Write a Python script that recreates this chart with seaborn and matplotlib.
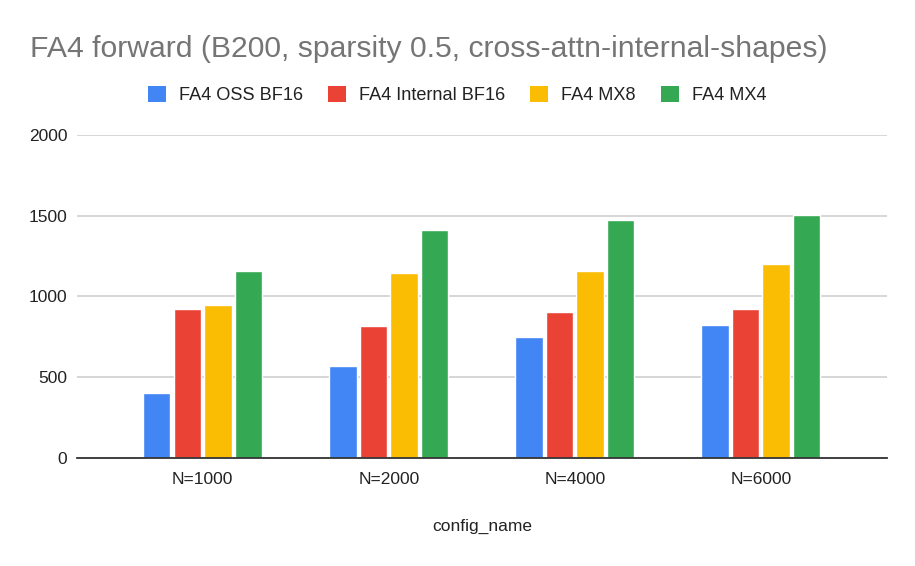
import pandas as pd
import matplotlib.pyplot as plt
import seaborn as sns
from matplotlib.patches import Patch

# Veriler
configs = ['N=1000', 'N=2000', 'N=4000', 'N=6000']
series = ['FA4 OSS BF16', 'FA4 Internal BF16', 'FA4 MX8', 'FA4 MX4']
oss_bf16 = [400, 570, 750, 820]
internal_bf16 = [920, 815, 900, 920]
mx8 = [945, 1145, 1155, 1200]
mx4 = [1155, 1410, 1475, 1505]
colors = ['#4285F4', '#EA4335', '#FBBC04', '#34A853']

rows = []
for name, vals in zip(series, [oss_bf16, internal_bf16, mx8, mx4]):
    for c, v in zip(configs, vals):
        rows.append({'config_name': c, 'series': name, 'value': v})
df = pd.DataFrame(rows)

sns.set_style("white")
plt.rcParams['font.family'] = ['Liberation Sans', 'DejaVu Sans']

W, H = 915, 566
fig = plt.figure(figsize=(W / 100, H / 100), dpi=100)
fig.patch.set_facecolor('white')
left, right, bottom, top = 77, 886.7, 457.7, 135
ax = fig.add_axes([left / W, 1 - bottom / H, (right - left) / W, (bottom - top) / H])

sns.barplot(data=df, x='config_name', y='value', hue='series', order=configs,
            hue_order=series, palette=colors, width=0.658, gap=0.108,
            saturation=1, legend=False, ax=ax)

ax.set_ylim(0, 2000)
ax.set_xlim(-0.676, 3.677)
ax.set_yticks([0, 500, 1000, 1500, 2000])
ax.yaxis.grid(True, color='#cccccc', linewidth=1.1)
ax.set_axisbelow(True)
for s in ['left', 'right', 'top']:
    ax.spines[s].set_visible(False)
ax.spines['bottom'].set_color('#333333')
ax.spines['bottom'].set_linewidth(1.3)
ax.tick_params(axis='both', length=0, labelsize=12.5, labelcolor='#222222')
ax.tick_params(axis='x', pad=10)
ax.tick_params(axis='y', pad=7)

ax.set_ylabel('')
ax.set_xlabel('config_name', fontsize=12.5, color='#222222')
ax.xaxis.set_label_coords(0.5, -0.2138)
ax.xaxis.label.set_va('center')

fig.text(30 / W, 1 - 56.7 / H, 'FA4 forward (B200, sparsity 0.5, cross-attn-internal-shapes)',
         fontsize=21.7, color='#757575', ha='left', va='baseline')

handles = [Patch(facecolor=c, edgecolor='none') for c in colors]
fig.legend(handles, series, loc='center', bbox_to_anchor=(457.2 / W, 1 - 94.7 / H), ncol=4,
           frameon=False, fontsize=13.1, handlelength=0.97, handleheight=0.97,
           handletextpad=0.72, columnspacing=1.4, labelcolor='#222222')

plt.savefig('out.png', dpi=100)
plt.close()
